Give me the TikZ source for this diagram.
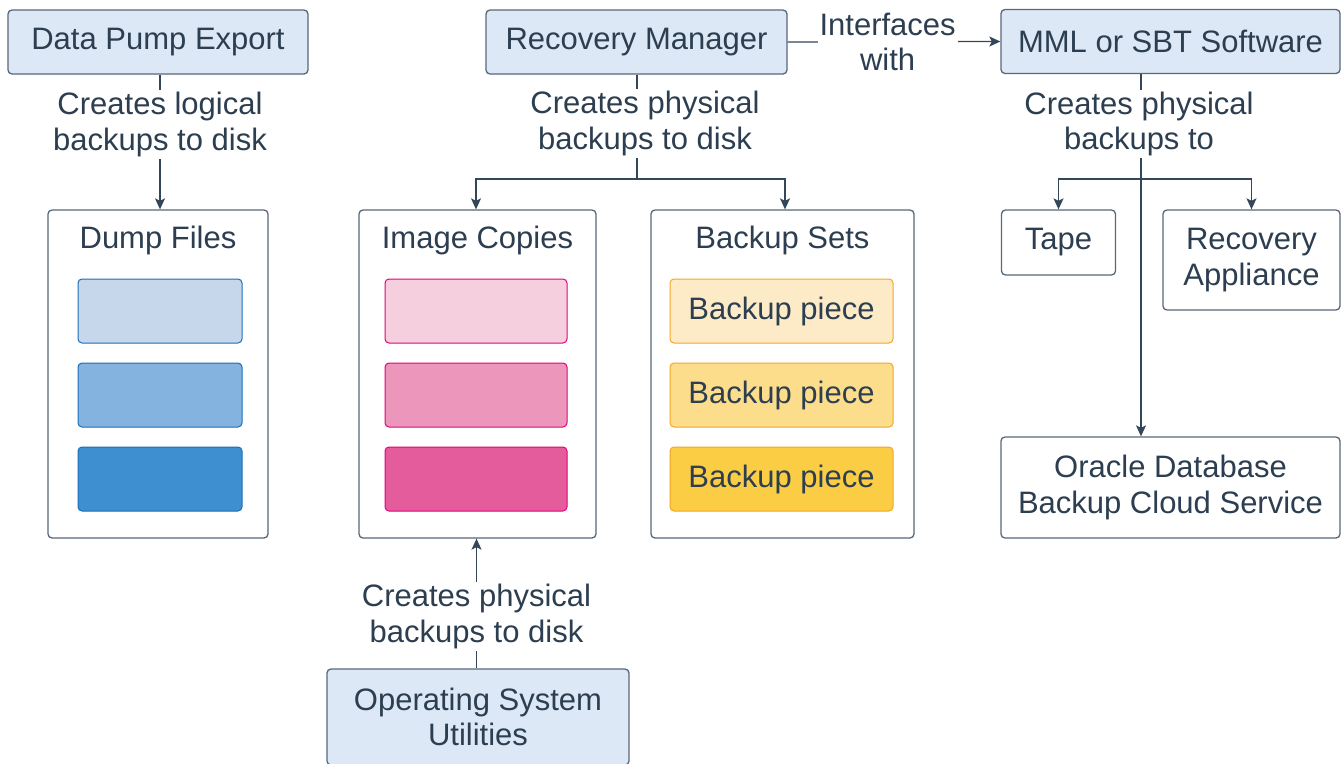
\documentclass[tikz,border=0pt]{standalone}
\usepackage{fontspec}
\setmainfont{Liberation Sans}
\usepackage{tikz}
\usetikzlibrary{arrows.meta,calc}
\definecolor{txtc}{RGB}{44,62,80}
\definecolor{linec}{RGB}{52,70,90}
\definecolor{boxc}{RGB}{88,104,121}
\definecolor{hdrfill}{RGB}{220,232,245}
\definecolor{blueline}{RGB}{26,111,186}
\definecolor{bluea}{RGB}{198,214,235}
\definecolor{blueb}{RGB}{133,179,224}
\definecolor{bluec}{RGB}{61,143,207}
\definecolor{pinkline}{RGB}{230,0,126}
\definecolor{pinka}{RGB}{245,207,221}
\definecolor{pinkb}{RGB}{236,150,188}
\definecolor{pinkc}{RGB}{229,92,156}
\definecolor{yelline}{RGB}{245,166,35}
\definecolor{yela}{RGB}{253,235,200}
\definecolor{yelb}{RGB}{252,221,139}
\definecolor{yelc}{RGB}{250,205,69}
\tikzset{
  every node/.style={font=\fontsize{31}{35.5}\selectfont, text=txtc},
  hdr/.style={draw=boxc, fill=hdrfill, rounded corners=4pt, line width=1.3pt, align=center, inner sep=0pt},
  cont/.style={draw=boxc, fill=white, rounded corners=4pt, line width=1.3pt, align=center, inner sep=0pt},
  cell/.style={rounded corners=4pt, line width=1pt, inner sep=0pt},
  lbl/.style={fill=white, align=center, inner sep=2pt},
  ln/.style={draw=linec, line width=1.3pt},
  arr/.style={ln, -{Stealth[length=11pt,width=10pt,inset=2.5pt]}},
}

\begin{document}
\begin{tikzpicture}[x=1pt,y=-1pt]
\useasboundingbox (0,0) rectangle (1341,763);

\node[hdr, minimum width=300, minimum height=64] (dpe) at (158,42) {Data Pump Export};
\node[hdr, minimum width=301, minimum height=64] (rman) at (636.5,42) {Recovery Manager};
\node[hdr, minimum width=339, minimum height=64] (mml) at (1170.5,41.5) {MML or SBT Software};
\node[hdr, minimum width=302, minimum height=96] (osu) at (478,717) {Operating System\\Utilities};

\node[cont, minimum width=220, minimum height=328] (dumpf) at (158,374) {};
\node[cont, minimum width=237, minimum height=328] (imgc) at (477.5,374) {};
\node[cont, minimum width=263, minimum height=328] (bkps) at (782.5,374) {};
\node (dumpt) at ([yshift=-31pt]dumpf.north) {Dump Files};
\node (imgct) at ([yshift=-31pt]imgc.north) {Image Copies};
\node (bkpst) at ([yshift=-31pt]bkps.north) {Backup Sets};

\foreach \i/\c in {1/bluea,2/blueb,3/bluec}
  \node[cell, draw=blueline, fill=\c, minimum width=164, minimum height=64] (dump\i) at (160,227+84*\i) {};
\foreach \i/\c in {1/pinka,2/pinkb,3/pinkc}
  \node[cell, draw=pinkline, fill=\c, minimum width=182, minimum height=64] (img\i) at (476,227+84*\i) {};
\foreach \i/\c in {1/yela,2/yelb,3/yelc}
  \node[cell, draw=yelline, fill=\c, minimum width=223, minimum height=64] (piece\i) at (781.5,227+84*\i) {Backup piece};

\node[cont, minimum width=114, minimum height=65] (tape) at (1058.5,242.5) {Tape};
\node[cont, minimum width=177, minimum height=100] (ra) at (1251.5,260) {Recovery\\Appliance};
\node[cont, minimum width=339, minimum height=101] (oracle) at (1170.5,487.5) {Oracle Database\\Backup Cloud Service};

\coordinate (rmsplit) at (637,179);
\coordinate (mmlsplit) at (1141,179);

\draw[arr] ([xshift=2pt]dpe.south) -- node[lbl, pos=.37]{Creates logical\\backups to disk} ([xshift=2pt]dumpf.north);
\draw[ln] ([xshift=.5pt]rman.south) -- node[lbl, pos=.47, xshift=8pt]{Creates physical\\backups to disk} (rmsplit);
\draw[arr] (rmsplit) -| ([xshift=-1.5pt]imgc.north);
\draw[arr] (rmsplit) -| ([xshift=2.5pt]bkps.north);
\draw[arr] (rman.east) -- node[lbl, pos=.47]{Interfaces\\with} (mml.west);
\draw[arr] ([xshift=-29.5pt]mml.south) -- node[lbl, pos=.137, xshift=-2pt]{Creates physical\\backups to} ([xshift=-29.5pt]oracle.north);
\draw[arr] (mmlsplit) -| (tape.north);
\draw[arr] (mmlsplit) -| (ra.north);
\draw[arr] ([xshift=-1.5pt]osu.north) -- node[lbl, pos=.40]{Creates physical\\backups to disk} ([xshift=-1pt]imgc.south);
\end{tikzpicture}
\end{document}
